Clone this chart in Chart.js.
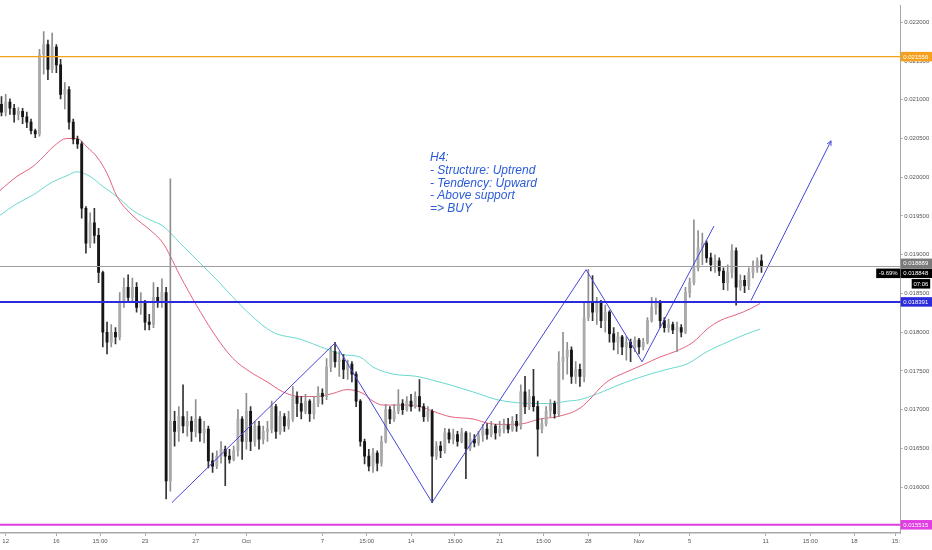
<!DOCTYPE html>
<html>
<head>
<meta charset="utf-8">
<script src="https://cdn.jsdelivr.net/npm/chart.js@4.4.1/dist/chart.umd.min.js"></script>
<style>
  html, body { margin:0; padding:0; background:#ffffff; }
  #wrap { width:932px; height:550px; }
</style>
</head>
<body>
<div id="wrap"><canvas id="chart" width="932" height="550"></canvas></div>
<script>
// H4 chart in 8h buckets (3 candles per day).
// x axis is in "day numbers": Sep d = d, Oct d = 30 + d, Nov d = 61 + d.
const CANDLE_START = 11.667;
const CANDLES_PER_DAY = 3;
const FIRST_OPEN = 0.02094;

const CLOSE = [
  0.02084,0.02097,0.02089,0.02081,0.02085,0.02078,0.02071,0.02060,0.02056,0.02158,
  0.02171,0.02139,0.02168,0.02145,0.02107,0.02113,0.02071,0.02049,0.02043,0.01960,
  0.01915,0.01941,0.01925,0.01877,0.01800,0.01787,0.01800,0.01794,0.01838,0.01858,
  0.01845,0.01858,0.01832,0.01838,0.01813,0.01810,0.01845,0.01838,0.01851,0.01608,
  0.01685,0.01672,0.01691,0.01679,0.01685,0.01672,0.01688,0.01670,0.01675,0.01634,
  0.01627,0.01640,0.01649,0.01640,0.01636,0.01647,0.01688,0.01659,0.01698,0.01659,
  0.01679,0.01662,0.01672,0.01675,0.01704,0.01672,0.01691,0.01679,0.01688,0.01717,
  0.01708,0.01698,0.01711,0.01695,0.01708,0.01721,0.01717,0.01755,0.01775,0.01762,
  0.01764,0.01752,0.01759,0.01746,0.01711,0.01659,0.01640,0.01627,0.01644,0.01631,
  0.01659,0.01700,0.01688,0.01698,0.01708,0.01700,0.01711,0.01704,0.01717,0.01704,
  0.01691,0.01698,0.01640,0.01653,0.01647,0.01670,0.01662,0.01668,0.01659,0.01670,
  0.01650,0.01662,0.01657,0.01667,0.01675,0.01668,0.01679,0.01670,0.01675,0.01680,
  0.01675,0.01685,0.01679,0.01723,0.01704,0.01717,0.01704,0.01675,0.01682,0.01698,
  0.01708,0.01695,0.01762,0.01768,0.01777,0.01743,0.01752,0.01743,0.01819,0.01838,
  0.01826,0.01838,0.01815,0.01826,0.01798,0.01787,0.01794,0.01781,0.01787,0.01780,
  0.01790,0.01781,0.01787,0.01815,0.01832,0.01838,0.01815,0.01806,0.01810,0.01803,
  0.01806,0.01800,0.01851,0.01864,0.01883,0.01909,0.01915,0.01896,0.01887,0.01892,
  0.01879,0.01864,0.01877,0.01905,0.01858,0.01867,0.01860,0.01877,0.01883,0.01892,0.01885
];
const HIGH = [
  0.02104,0.02107,0.02101,0.02094,0.02090,0.02089,0.02084,0.02075,0.02062,0.02165,
  0.02188,0.02177,0.02186,0.02171,0.02152,0.02122,0.02117,0.02075,0.02053,0.02046,
  0.01962,0.01954,0.01960,0.01934,0.01879,0.01813,0.01810,0.01806,0.01851,0.01870,
  0.01874,0.01870,0.01864,0.01851,0.01841,0.01823,0.01864,0.01858,0.01869,0.01858,
  0.01998,0.01698,0.01704,0.01732,0.01698,0.01691,0.01713,0.01691,0.01685,0.01679,
  0.01644,0.01647,0.01659,0.01653,0.01649,0.01653,0.01700,0.01691,0.01721,0.01704,
  0.01685,0.01685,0.01679,0.01685,0.01711,0.01707,0.01698,0.01695,0.01698,0.01730,
  0.01723,0.01717,0.01720,0.01713,0.01717,0.01730,0.01727,0.01766,0.01781,0.01787,
  0.01775,0.01771,0.01764,0.01762,0.01749,0.01713,0.01662,0.01649,0.01650,0.01647,
  0.01666,0.01707,0.01704,0.01707,0.01726,0.01713,0.01717,0.01720,0.01723,0.01739,
  0.01708,0.01704,0.01700,0.01659,0.01659,0.01676,0.01675,0.01675,0.01672,0.01676,
  0.01672,0.01670,0.01668,0.01672,0.01681,0.01682,0.01685,0.01681,0.01685,0.01688,
  0.01689,0.01691,0.01694,0.01732,0.01743,0.01726,0.01752,0.01711,0.01688,0.01704,
  0.01713,0.01711,0.01775,0.01800,0.01787,0.01781,0.01762,0.01759,0.01838,0.01881,
  0.01873,0.01845,0.01841,0.01835,0.01828,0.01806,0.01800,0.01796,0.01794,0.01791,
  0.01794,0.01792,0.01792,0.01819,0.01845,0.01844,0.01841,0.01819,0.01817,0.01813,
  0.01813,0.01810,0.01858,0.01870,0.01945,0.01931,0.01928,0.01918,0.01902,0.01900,
  0.01896,0.01883,0.01887,0.01913,0.01909,0.01874,0.01873,0.01883,0.01892,0.01896,0.01900
];
const LOW = [
  0.02079,0.02079,0.02081,0.02071,0.02074,0.02069,0.02064,0.02056,0.02051,0.02053,
  0.02133,0.02126,0.02135,0.02135,0.02101,0.02088,0.02062,0.02043,0.02037,0.01947,
  0.01902,0.01909,0.01915,0.01864,0.01781,0.01772,0.01781,0.01785,0.01790,0.01832,
  0.01838,0.01838,0.01826,0.01823,0.01803,0.01803,0.01806,0.01832,0.01832,0.01585,
  0.01595,0.01653,0.01659,0.01670,0.01666,0.01659,0.01665,0.01659,0.01657,0.01625,
  0.01619,0.01624,0.01631,0.01602,0.01631,0.01634,0.01640,0.01636,0.01649,0.01647,
  0.01653,0.01649,0.01656,0.01659,0.01670,0.01663,0.01668,0.01672,0.01675,0.01685,
  0.01691,0.01688,0.01695,0.01685,0.01688,0.01704,0.01707,0.01713,0.01749,0.01755,
  0.01743,0.01740,0.01739,0.01736,0.01704,0.01653,0.01630,0.01621,0.01619,0.01621,
  0.01627,0.01657,0.01682,0.01685,0.01695,0.01694,0.01698,0.01698,0.01702,0.01698,
  0.01685,0.01685,0.01580,0.01636,0.01638,0.01644,0.01657,0.01656,0.01653,0.01657,
  0.01611,0.01647,0.01652,0.01654,0.01659,0.01662,0.01665,0.01662,0.01666,0.01670,
  0.01670,0.01672,0.01672,0.01675,0.01695,0.01700,0.01698,0.01640,0.01670,0.01679,
  0.01691,0.01689,0.01691,0.01739,0.01746,0.01734,0.01734,0.01730,0.01736,0.01815,
  0.01815,0.01810,0.01806,0.01800,0.01787,0.01777,0.01772,0.01771,0.01764,0.01762,
  0.01775,0.01772,0.01777,0.01785,0.01813,0.01823,0.01806,0.01800,0.01800,0.01798,
  0.01775,0.01794,0.01798,0.01845,0.01861,0.01879,0.01887,0.01890,0.01879,0.01877,
  0.01873,0.01855,0.01854,0.01870,0.01835,0.01854,0.01851,0.01855,0.01870,0.01877,0.01877
];

// moving averages (red = faster, teal = slower), sampled along the curve
const MA_RED_DAYS = [11.55,12.89,14.16,14.95,15.73,16.84,17.63,18.42,19.21,20.0,20.79,22.05,23.39,24.42,24.97,25.76,
  28.37,29.95,31.29,32.63,33.89,35.24,36.58,37.84,38.95,40.21,41.0,41.79,43.68,44.71,45.74,47.08,48.89,50.24,51.58,
  52.84,54.18,55.53,57.34,59.47,61.05,62.32,63.66,64.84,66.26,67.37,68.40,69.74,70.76,71.55];
const MA_RED = [0.01983,0.02001,0.02014,0.02026,0.02039,0.02050,0.02050,0.02039,0.02026,0.02005,0.01975,0.01950,0.01932,0.01915,0.01899,0.01873,
  0.01800,0.01766,0.01749,0.01736,0.01723,0.01717,0.01717,0.01721,0.01726,0.01721,0.01711,0.01706,0.01706,0.01704,0.01698,0.01691,0.01688,0.01682,0.01681,
  0.01682,0.01688,0.01691,0.01702,0.01736,0.01749,0.01758,0.01768,0.01775,0.01787,0.01804,0.01815,0.01823,0.01830,0.01837];
const MA_TEAL_DAYS = [11.55,12.89,14.16,15.50,16.84,17.63,18.66,19.68,20.79,22.05,23.39,24.42,25.76,28.52,31.29,33.10,
  35.24,37.37,38.63,39.97,41.0,42.58,44.47,45.50,47.08,48.89,50.79,52.37,53.63,54.97,56.32,57.34,61.05,62.87,64.45,
  65.79,67.37,68.95,70.53,71.55];
const MA_TEAL = [0.01951,0.01966,0.01977,0.01992,0.02002,0.02007,0.02001,0.01988,0.01975,0.01957,0.01945,0.01937,0.01915,0.01870,0.01823,0.01800,
  0.01791,0.01778,0.01771,0.01768,0.01755,0.01746,0.01743,0.01739,0.01732,0.01723,0.01713,0.01709,0.01708,0.01708,0.01711,0.01713,0.01736,0.01746,0.01753,
  0.01759,0.01775,0.01787,0.01798,0.01804];

// hand-drawn swing lines and the projection arrow
const ZIGZAG_DAYS = [25.13, 38.0, 45.66, 57.82, 62.24, 67.92];
const ZIGZAG_PRICES = [0.015802, 0.017861, 0.015802, 0.018807, 0.017618, 0.01937];
const ARROW_DAYS = [70.84, 77.16];
const ARROW_PRICES = [0.01841, 0.020469];

// horizontal levels: resistance, last price, support, low
const LEVEL_PRICES = [0.021556, 0.018848, 0.018391, 0.015515];
const LAST_PRICE = 0.018848;
const PREV_PRICE = 0.018889;
const CHANGE_TEXT = '-9.69%';
const COUNTDOWN_TEXT = '07:06';

const Y_TICKS = [0.016, 0.0165, 0.017, 0.0175, 0.018, 0.0185, 0.019, 0.0195, 0.020, 0.0205, 0.021, 0.0215, 0.022];
const X_TICK_DAYS = [12, 16, 19.45, 23, 27, 31, 37, 40.5, 44, 47.47, 51, 54.45, 58, 62, 66, 72, 75.52, 79, 82.28];
const X_TICK_LABELS = ['12', '16', '15:00', '23', '27', 'Oct', '7', '15:00', '14', '15:00', '21', '15:00', '28', 'Nov', '5', '11', '15:00', '18', '15:'];

const NOTE_LINES = ['H4:', '- Structure: Uptrend', '- Tendency: Upward', '- Above support', '=> BUY'];
const NOTE_AT = [45.5, 0.020246];

const FONT = "'Liberation Sans', Arial, sans-serif";
const COL = {
  up: '#ababab', upWick: '#8f8f8f', down: '#161616', downWick: '#333333',
  red: '#e3627c', teal: '#6ad8cf', draw: '#4646d6', note: '#2a5bd7',
  orange: '#f5a01e', last: '#9e9e9e', blue: '#2b2bdb', magenta: '#e03ee0',
  axis: '#a8a8a8', text: '#555555',
};
const LEVEL_STYLE = [
  { color: COL.orange, width: 1.2 },
  { color: COL.last, width: 1 },
  { color: COL.blue, width: 2 },
  { color: COL.magenta, width: 2 },
];

// opens follow the previous close
const OPEN = CLOSE.map((c, i) => i === 0 ? FIRST_OPEN : CLOSE[i - 1]);
const T = CLOSE.map((c, i) => CANDLE_START + i / CANDLES_PER_DAY);
const isUp = CLOSE.map((c, i) => c >= OPEN[i]);

const levelsPlugin = {
  id: 'levels',
  afterDatasetsDraw(chart) {
    const { ctx, chartArea: a, scales: { x, y } } = chart;
    ctx.save();
    LEVEL_PRICES.forEach((p, i) => {
      const py = y.getPixelForValue(p);
      ctx.strokeStyle = LEVEL_STYLE[i].color;
      ctx.lineWidth = LEVEL_STYLE[i].width;
      ctx.beginPath();
      ctx.moveTo(a.left, py);
      ctx.lineTo(a.right, py);
      ctx.stroke();
    });

    // arrow head at the end of the projection
    const x0 = x.getPixelForValue(ARROW_DAYS[0]), y0 = y.getPixelForValue(ARROW_PRICES[0]);
    const x1 = x.getPixelForValue(ARROW_DAYS[1]), y1 = y.getPixelForValue(ARROW_PRICES[1]);
    const ang = Math.atan2(y1 - y0, x1 - x0);
    ctx.strokeStyle = COL.draw;
    ctx.lineWidth = 1;
    ctx.beginPath();
    ctx.moveTo(x1 - 5 * Math.cos(ang - 0.45), y1 - 5 * Math.sin(ang - 0.45));
    ctx.lineTo(x1, y1);
    ctx.lineTo(x1 - 5 * Math.cos(ang + 0.45), y1 - 5 * Math.sin(ang + 0.45));
    ctx.stroke();

    // note text
    ctx.fillStyle = COL.note;
    ctx.font = 'italic 12px ' + FONT;
    ctx.textBaseline = 'middle';
    ctx.textAlign = 'left';
    const nx = x.getPixelForValue(NOTE_AT[0]);
    const ny = y.getPixelForValue(NOTE_AT[1]);
    NOTE_LINES.forEach((l, i) => ctx.fillText(l, nx, ny + i * 12.6));
    ctx.restore();
  },
  afterDraw(chart) {
    const { ctx, chartArea: a, scales: { y } } = chart;
    const W = chart.width;
    const H = 9.5;
    const tags = [
      { price: LEVEL_PRICES[0], bg: COL.orange },
      { price: PREV_PRICE, bg: '#7a7a7a' },
      { price: LAST_PRICE, bg: '#000000', last: true },
      { price: LEVEL_PRICES[2], bg: COL.blue },
      { price: LEVEL_PRICES[3], bg: COL.magenta },
    ];
    ctx.save();
    ctx.font = '6px ' + FONT;
    ctx.textBaseline = 'middle';
    let prevBottom = -Infinity;
    tags.forEach(t => {
      let cy = y.getPixelForValue(t.price);
      if (cy - H / 2 < prevBottom + 0.5) cy = prevBottom + 0.5 + H / 2;
      prevBottom = cy + H / 2;
      ctx.fillStyle = t.bg;
      ctx.fillRect(a.right, cy - H / 2, W - a.right, H);
      ctx.fillStyle = '#ffffff';
      ctx.textAlign = 'left';
      ctx.fillText(t.price.toFixed(6), a.right + 2.5, cy + 0.3);
      if (t.last) {
        ctx.fillStyle = '#000000';
        ctx.fillRect(a.right - 24.5, cy - H / 2, 24, H);
        ctx.fillStyle = '#ffffff';
        ctx.textAlign = 'center';
        ctx.fillText(CHANGE_TEXT, a.right - 12.5, cy + 0.3);
        const cy2 = cy + H + 1;
        ctx.fillStyle = '#000000';
        ctx.fillRect(a.right + 11, cy2 - H / 2, 18.5, H);
        ctx.fillStyle = '#ffffff';
        ctx.fillText(COUNTDOWN_TEXT, a.right + 20.2, cy2 + 0.3);
        prevBottom = cy2 + H / 2;
      }
    });
    ctx.restore();
  },
};

new Chart(document.getElementById('chart'), {
  type: 'bar',
  data: {
    datasets: [
      {
        type: 'line', label: 'swings', order: 0,
        data: ZIGZAG_DAYS.map((d, i) => ({ x: d, y: ZIGZAG_PRICES[i] })),
        borderColor: COL.draw, borderWidth: 1, pointRadius: 0, tension: 0,
      },
      {
        type: 'line', label: 'projection', order: 0,
        data: ARROW_DAYS.map((d, i) => ({ x: d, y: ARROW_PRICES[i] })),
        borderColor: COL.draw, borderWidth: 1, pointRadius: 0, tension: 0,
      },
      {
        label: 'body', order: 2, grouped: false, barThickness: 2.2, minBarLength: 1,
        data: T.map((t, i) => ({ x: t, y: [Math.min(OPEN[i], CLOSE[i]), Math.max(OPEN[i], CLOSE[i])] })),
        backgroundColor: isUp.map(u => u ? COL.up : COL.down),
        borderWidth: 0,
      },
      {
        label: 'wick', order: 3, grouped: false, barThickness: 1,
        data: T.map((t, i) => ({ x: t, y: [LOW[i], HIGH[i]] })),
        backgroundColor: isUp.map(u => u ? COL.upWick : COL.downWick),
        borderWidth: 0,
      },
      {
        type: 'line', label: 'MA fast', order: 4,
        data: MA_RED_DAYS.map((d, i) => ({ x: d, y: MA_RED[i] })),
        borderColor: COL.red, borderWidth: 1, pointRadius: 0, cubicInterpolationMode: 'monotone',
      },
      {
        type: 'line', label: 'MA slow', order: 5,
        data: MA_TEAL_DAYS.map((d, i) => ({ x: d, y: MA_TEAL[i] })),
        borderColor: COL.teal, borderWidth: 1, pointRadius: 0, cubicInterpolationMode: 'monotone',
      },
    ],
  },
  options: {
    responsive: false,
    animation: false,
    devicePixelRatio: 1,
    layout: { padding: 0 },
    plugins: { legend: { display: false }, tooltip: { enabled: false } },
    scales: {
      x: {
        type: 'linear', min: 11.55, max: 82.66, offset: false,
        grid: { display: true, offset: false, drawOnChartArea: false, tickLength: 3, color: COL.axis },
        border: { color: COL.axis, width: 1.5 },
        ticks: {
          autoSkip: false, maxRotation: 0, padding: 2, color: COL.text,
          font: { size: 6, family: FONT },
          callback: (v, i) => X_TICK_LABELS[i],
        },
        afterBuildTicks: s => { s.ticks = X_TICK_DAYS.map(v => ({ value: v })); },
        afterFit: s => { s.height = 17; },
      },
      y: {
        type: 'linear', position: 'right', min: 0.015409, max: 0.022221,
        grid: { display: true, drawOnChartArea: false, tickLength: 2, color: COL.axis },
        border: { color: COL.axis, width: 1 },
        ticks: {
          padding: 1.5, color: COL.text,
          font: { size: 6, family: FONT },
          callback: v => v.toFixed(6),
        },
        afterBuildTicks: s => { s.ticks = Y_TICKS.map(v => ({ value: v })); },
        afterFit: s => { s.width = 31.3; },
      },
    },
  },
  plugins: [levelsPlugin],
});
</script>
</body>
</html>
